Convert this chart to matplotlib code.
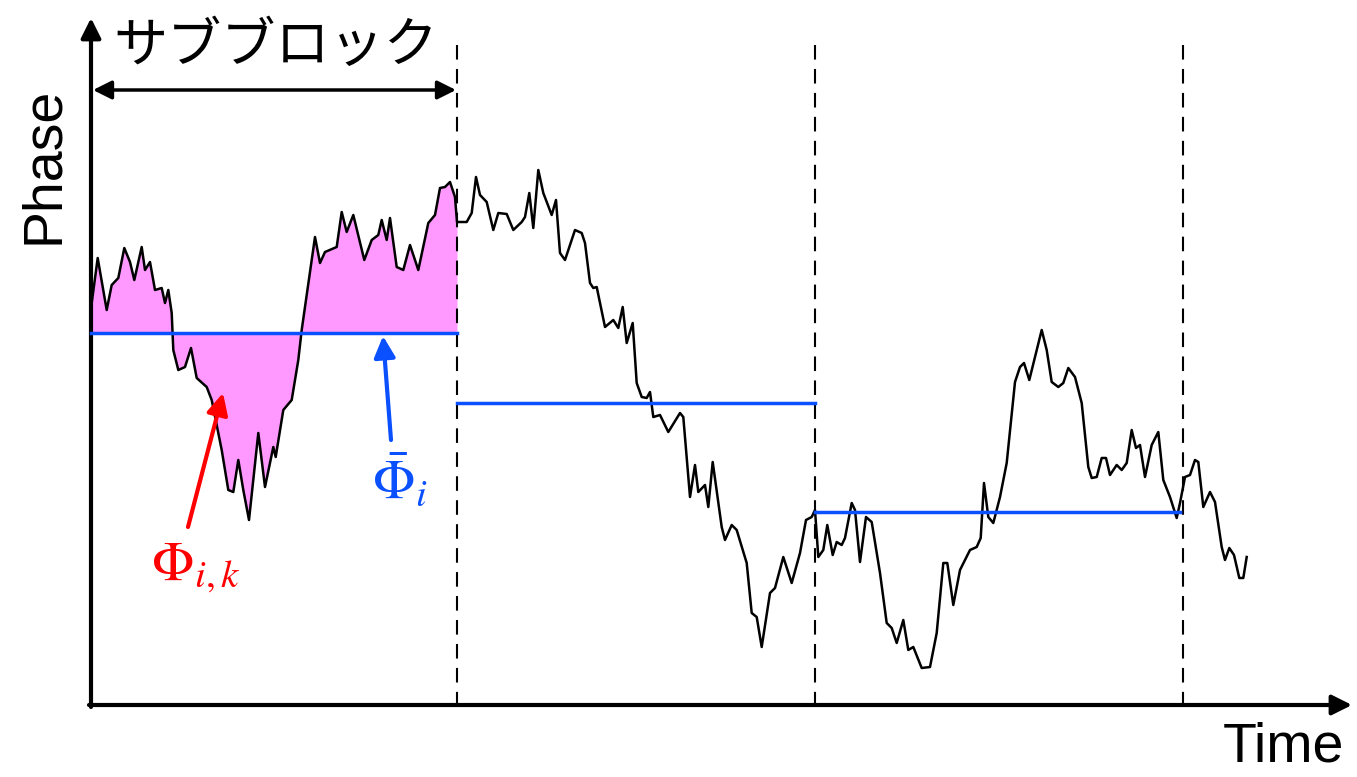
import numpy as np
import matplotlib.pyplot as plt

plt.rcParams['mathtext.fontset'] = 'stix'

# phase trace (time, phase) on the drawing grid, y grows downward
t = [91.7, 97.7, 106.7, 111.7, 118.3, 124.3, 130, 134.3, 141.7, 145, 150, 155,
     161.7, 165, 168.3, 171.7, 173.3, 178.3, 185, 191, 196.7, 206.7, 211.7,
     221.7, 228.3, 233.3, 238.3, 243.3, 249, 258.3, 265, 273.3, 275.7, 283.3,
     291.7, 298.3, 301.7, 315, 320, 325, 336.7, 341.7, 346.7, 353.3, 364.3,
     371.7, 378.3, 381.7, 386.7, 390, 396.7, 403.3, 410, 418.3, 428.3, 435,
     440, 445, 450, 455, 457,
     466.7, 471.7, 476, 480, 486.7, 493.3, 498.3, 506.7, 513.3, 521.7, 525,
     529.3, 533.3, 538.3, 543.3, 551.7, 556, 560, 565, 575, 581.7, 585, 590,
     593.3, 596.7, 605, 613.3, 618.3, 622.7, 626.7, 632.7, 636.7, 641.7,
     646.7, 650, 653.3, 660, 668.3, 680, 683.3, 690, 695, 698.3, 705, 708.3,
     712.7, 721.7, 725, 731.7, 736.7, 746.7, 751.7, 756.7, 761.7, 770, 775,
     783.3, 791.7, 800, 806, 811.7, 815,
     818.3, 823.3, 827.3, 832.7, 836.7, 841.7, 845, 851.7, 855, 860, 866,
     871.7, 880, 886.7, 891.7, 896.7, 903.3, 908.3, 913.3, 921.7, 930, 936.7,
     943.3, 947.3, 953.3, 960, 970, 976.7, 980.7, 984, 988.3, 993.3, 1000,
     1006.7, 1015, 1020, 1024, 1029.3, 1035, 1041.7, 1046.7, 1051.7, 1058.3,
     1063.3, 1068.3, 1075, 1081.7, 1088.3, 1091.7, 1096.7, 1101.7, 1106, 1110,
     1116.7, 1121.7, 1126.7, 1131.7, 1136, 1140, 1145, 1151.7, 1158.3, 1163.3,
     1170, 1176.7, 1180, 1185, 1190, 1195, 1198.3, 1203.3, 1210, 1215, 1221.7,
     1225, 1229.3, 1234, 1239.3, 1243.3, 1246.7]
phase = [303, 258, 310, 285, 278, 248, 262, 280, 247, 270, 262, 290,
         288, 303, 290, 313, 350, 370, 367, 348, 378, 387, 400,
         450, 490, 492, 460, 490, 520, 433, 487, 447, 457, 410,
         400, 360, 330, 237, 263, 252, 247, 212, 232, 215, 260,
         240, 235, 220, 240, 218, 267, 270, 245, 270, 223, 215,
         188, 187, 182, 197, 222,
         222, 213, 177, 195, 202, 230, 213, 214, 230, 222, 217,
         193, 228, 170, 193, 215, 200, 253, 260, 230, 233, 243, 283,
         288, 287, 327, 320, 328, 307, 343, 323, 383, 397,
         398, 392, 417, 415, 432, 413, 417, 497, 465, 492, 485, 507,
         462, 527, 540, 525, 530, 563, 613, 617, 647, 593, 588,
         557, 583, 553, 520, 517, 510,
         557, 550, 525, 555, 542, 545, 538, 503, 510, 562, 517,
         522, 573, 623, 628, 643, 620, 650, 647, 668, 667, 633,
         563, 563, 605, 570, 550, 547, 538, 483, 517, 523, 497,
         463, 382, 367, 363, 380, 357, 330, 350, 382, 387,
         383, 368, 377, 403, 467, 478, 477, 458, 458, 475,
         465, 470, 463, 430, 448, 445, 477, 445, 432, 480,
         497, 518, 503, 477, 475, 460, 462, 507, 492, 502, 547,
         560, 548, 555, 578, 578, 557]

# sub-block edges and block means
edges = [91, 457, 815, 1183]
means = [333, 403, 512]

t = np.array(t)
phase = np.array(phase)

fig = plt.figure(figsize=(13.57, 7.77), dpi=100)
ax = fig.add_axes([0, 0, 1, 1])
ax.set_xlim(0, 1357)
ax.set_ylim(777, 0)
ax.axis('off')

blue = '#0a50ff'

# shaded deviation in the first sub-block
m1 = t <= edges[1]
ax.fill_between(t[m1], phase[m1], means[0], color='#ff99ff', lw=0, zorder=1)

ax.plot(t, phase, color='k', lw=1.8, zorder=3)

for x in edges[1:]:
    ax.plot([x, x], [45, 705], color='k', lw=1.5, ls=(0, (7, 4.5)), zorder=2)

for i in range(3):
    ax.plot([edges[i], edges[i + 1] - (3 if i == 2 else 0)], [means[i], means[i]],
            color=blue, lw=2.5, zorder=4)

# axes with arrow heads
ax.annotate('', xy=(91, 18), xytext=(91, 707),
            arrowprops=dict(arrowstyle='-|>', lw=3, color='k', mutation_scale=30,
                            shrinkA=0, shrinkB=0))
ax.annotate('', xy=(1352, 705), xytext=(89, 705),
            arrowprops=dict(arrowstyle='-|>', lw=3, color='k', mutation_scale=30,
                            shrinkA=0, shrinkB=0))

# sub-block width
ax.annotate('', xy=(93, 90), xytext=(456, 90),
            arrowprops=dict(arrowstyle='<|-|>', lw=2.5, color='k', mutation_scale=28,
                            shrinkA=0, shrinkB=0))
ax.text(276, 46, 'サブブロック', fontsize=39, ha='center', va='center',
        family=['Noto Sans CJK JP', 'DejaVu Sans'])

ax.text(44, 165, 'Phase', fontsize=40, rotation=90, ha='center', va='center',
        family='Liberation Sans')
ax.text(1283, 748, 'Time', fontsize=40, ha='center', va='center',
        family='Liberation Sans')

# labels and pointers
ax.annotate('', xy=(223, 393), xytext=(188, 527),
            arrowprops=dict(arrowstyle='-|>', lw=3, color='red', mutation_scale=32,
                            shrinkA=0, shrinkB=0))
ax.text(196, 568, r'$\Phi_{i,k}$', fontsize=40, color='red', ha='center', va='center')

ax.annotate('', xy=(383, 336), xytext=(391, 440),
            arrowprops=dict(arrowstyle='-|>', lw=3, color=blue, mutation_scale=32,
                            shrinkA=0, shrinkB=0))
ax.text(400, 482, r'$\bar{\Phi}_{i}$', fontsize=40, color=blue, ha='center', va='center')

plt.savefig('out.png', dpi=100)
